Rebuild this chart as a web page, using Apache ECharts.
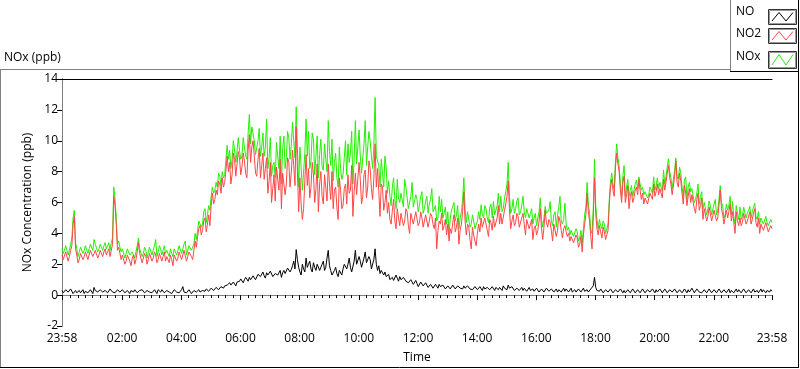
<!DOCTYPE html>
<html><head><meta charset="utf-8">
<script src="https://cdn.jsdelivr.net/npm/echarts@6/dist/echarts.min.js"></script>
<style>html,body{margin:0;padding:0;background:#fff}#c{width:800px;height:369px}</style>
</head><body><div id="c"></div>
<script>
// time in minutes since 23:58 (start of record).
// "main" arrays: samples at 0,5,10,... min; "mid" arrays: samples at 2.5,7.5,... min. One row per hour.
const stepMinutes = 5;
const no2Main = [
 2.6,2.4,2.9,2.5,3.2,5.1,2.6,2.3,2.8,2.5,2.9,2.6,
 3.0,2.7,2.9,2.6,3.0,2.8,2.6,3.0,2.9,6.4,4.6,3.1,
 2.3,2.5,2.2,2.7,1.9,2.6,2.3,3.4,2.6,2.2,2.5,2.3,
 2.8,2.4,2.6,2.3,2.7,2.5,2.2,2.6,2.6,1.9,2.7,2.4,
 2.9,2.6,2.8,2.5,2.7,2.3,3.5,3.8,4.5,4.2,5.0,4.6,
 4.5,6.6,6.2,6.5,7.2,7.6,7.3,9.0,8.6,7.8,8.8,8.5,
 8.9,8.3,8.7,7.6,10.4,9.6,9.0,7.7,9.5,8.4,7.5,8.9,
 7.4,6.0,7.8,8.3,6.8,5.6,8.0,7.2,8.6,7.9,8.4,10.9,
 5.4,5.9,5.6,9.1,8.2,7.0,7.8,6.9,5.4,8.0,5.9,7.0,
 8.5,6.2,5.6,7.0,4.9,6.8,5.8,7.2,7.8,6.8,5.1,7.9,
 6.6,7.5,6.4,8.1,7.0,8.2,6.2,9.8,8.2,5.1,7.0,6.0,
 5.3,4.9,5.5,4.8,5.6,4.5,5.2,4.8,5.4,4.0,5.2,4.6,
 5.5,4.7,5.0,4.5,5.3,4.8,5.1,4.3,3.0,4.8,5.3,4.5,
 3.9,3.5,4.0,5.2,4.4,3.3,4.6,6.7,3.9,4.4,3.0,3.9,
 3.2,4.6,5.0,4.3,4.9,3.8,4.7,5.1,4.3,5.8,5.3,4.6,
 5.9,7.4,4.3,5.2,4.7,5.1,4.5,5.3,3.9,4.8,4.4,3.6,
 4.5,4.2,5.6,3.6,5.5,4.4,4.7,3.5,4.5,4.2,4.8,3.7,
 4.5,3.8,3.5,3.9,3.4,3.7,3.3,2.8,4.6,6.6,4.8,3.0,
 7.6,4.3,4.5,3.7,4.1,3.5,5.9,7.5,6.4,9.2,8.0,6.0,
 7.7,6.5,5.6,6.7,6.3,7.0,7.5,6.2,5.9,6.4,6.0,6.5,
 7.2,6.7,6.5,6.8,7.5,7.3,8.4,7.2,6.4,8.7,7.0,7.4,
 5.9,6.6,6.4,6.0,6.5,5.3,6.6,5.8,4.9,5.5,5.1,5.3,
 4.9,5.4,5.0,6.8,5.2,4.6,5.0,5.9,5.4,4.0,4.8,5.0,
 4.7,5.2,4.8,5.4,4.9,5.6,4.4,4.0,4.6,4.1,4.4,4.0,
 4.3
];
const no2Mid = [
 2.3,2.8,2.2,2.9,4.6,3.0,2.1,2.7,2.3,2.8,2.3,2.9,
 2.5,2.9,2.4,2.9,2.5,3.0,2.8,2.5,3.3,5.8,2.9,2.7,
 2.6,2.0,2.6,2.2,2.4,2.0,2.8,2.7,2.1,2.7,2.0,2.7,
 2.2,2.8,2.1,2.7,2.2,2.8,2.5,2.1,2.3,2.6,2.2,2.8,
 2.3,2.9,2.2,2.8,2.5,2.9,3.1,4.3,3.9,4.8,4.1,5.2,
 5.8,5.9,6.8,7.4,6.6,7.0,8.1,8.0,7.2,9.2,7.7,9.3,
 7.8,9.2,7.9,9.4,8.6,10.0,7.9,8.8,7.6,9.2,8.2,6.6,
 8.6,6.9,6.1,7.5,8.8,7.9,6.5,8.9,7.0,9.4,7.1,8.0,
 7.6,4.9,7.4,7.1,6.3,8.6,6.0,8.5,7.2,6.4,7.8,6.1,
 7.2,8.0,6.8,5.7,7.6,5.6,6.9,5.9,6.6,8.4,6.7,6.5,
 8.6,5.9,7.8,6.3,8.7,6.9,7.6,7.0,6.7,7.2,5.5,6.8,
 6.0,4.6,6.2,4.3,5.0,5.3,4.5,5.6,4.5,5.3,4.6,5.4,
 4.5,5.4,4.4,5.2,4.4,5.3,4.6,5.0,4.2,4.6,4.2,4.9,
 4.6,4.3,4.7,4.1,5.0,4.2,5.4,4.8,4.6,3.6,4.4,3.5,
 4.0,4.1,4.4,5.0,4.2,4.9,4.2,4.4,5.0,4.6,4.6,5.5,
 6.4,5.6,4.8,4.5,5.3,4.4,5.0,4.6,4.9,4.3,4.9,4.3,
 3.9,4.8,4.3,4.4,4.7,4.9,4.2,4.6,3.8,5.1,4.2,4.3,
 4.1,4.0,3.8,3.4,3.9,3.1,3.8,3.9,5.2,5.4,3.8,5.0,
 5.3,3.9,4.1,4.4,3.6,4.2,7.0,6.8,8.3,8.5,6.8,7.3,
 6.0,7.1,6.4,6.0,6.8,6.5,6.8,6.6,6.3,5.9,6.6,6.2,
 6.4,7.2,6.9,6.3,6.8,7.9,7.6,6.5,7.7,7.3,7.9,6.6,
 7.1,5.8,6.9,6.5,5.6,6.2,5.5,6.3,5.6,4.8,5.7,4.8,
 5.5,4.8,5.8,5.6,4.6,5.5,5.4,4.8,4.7,5.4,4.5,4.5,
 5.3,4.6,5.1,4.6,5.3,4.7,5.0,4.6,4.2,4.7,4.1,4.5
];
const noxMain = [
 3.0,2.9,3.3,2.9,3.7,5.5,3.0,2.8,3.1,2.9,3.2,3.0,
 3.3,3.6,3.2,3.0,3.3,3.2,3.0,3.4,3.4,7.0,5.0,3.5,
 2.8,2.9,2.7,3.0,2.5,2.9,2.8,3.7,3.0,2.7,2.9,2.8,
 3.1,2.9,3.6,2.8,3.0,2.9,2.7,3.0,3.0,2.5,3.1,2.9,
 3.2,3.0,3.5,2.9,3.1,2.8,4.0,4.2,4.8,4.6,5.6,5.2,
 5.5,7.0,6.8,7.0,7.7,8.0,7.8,9.7,9.4,8.8,9.4,9.3,
 9.4,9.0,9.6,8.8,11.7,10.9,10.0,9.2,10.8,9.6,9.0,11.4,
 8.9,7.7,8.6,9.9,8.2,7.2,10.3,8.9,10.2,9.7,10.0,12.2,
 7.0,8.3,6.8,11.4,10.6,8.7,10.1,9.0,7.6,10.1,8.1,8.8,
 11.3,8.4,7.4,9.2,7.0,8.2,7.8,10.0,9.8,9.2,7.2,11.3,
 8.5,9.0,8.0,11.3,9.6,10.0,8.2,12.8,9.0,7.0,8.7,9.0,
 6.6,6.4,7.0,6.2,7.5,6.0,6.6,7.5,6.9,5.6,7.3,6.1,
 6.2,5.8,6.7,5.6,6.4,5.9,6.9,5.5,4.8,6.4,6.2,5.3,
 4.6,4.0,5.5,6.0,5.2,4.3,5.4,7.6,4.7,5.3,4.6,4.8,
 4.4,5.4,5.85,5.0,5.6,4.7,5.9,6.06,5.2,6.6,6.4,5.6,
 6.7,8.6,5.3,6.2,5.6,6.3,5.4,6.4,5.0,5.7,5.3,4.6,
 5.3,5.0,6.3,4.4,5.75,5.3,6.06,4.5,5.4,5.2,6.4,4.6,
 5.95,4.2,3.9,4.3,3.8,4.1,3.7,3.4,5.2,7.3,5.3,4.0,
 8.8,4.9,4.9,4.3,4.6,4.1,6.2,7.9,6.8,9.8,8.4,6.4,
 8.4,7.0,6.4,7.1,6.8,7.45,7.66,6.8,6.5,6.7,6.5,6.9,
 7.66,7.1,6.9,7.2,8.1,7.7,8.83,7.6,7.0,8.88,7.5,7.9,
 6.4,7.66,7.0,6.7,6.9,6.2,7.2,6.4,5.6,6.0,5.6,5.8,
 5.3,6.2,5.5,7.1,5.8,5.2,5.5,6.4,6.06,4.6,5.3,5.7,
 5.1,5.74,5.3,5.74,5.4,5.95,4.9,4.6,4.9,4.5,4.7,4.5,
 4.7
];
const noxMid = [
 2.7,3.2,2.6,3.3,5.0,3.4,2.5,3.1,2.7,3.2,2.7,3.3,
 2.9,3.3,2.8,3.3,2.9,3.4,3.2,2.9,3.7,6.3,3.3,3.1,
 3.0,2.4,3.0,2.6,2.8,2.4,3.2,3.0,2.5,3.1,2.4,3.1,
 2.6,3.2,2.5,3.2,2.6,3.2,2.9,2.5,2.7,3.0,2.6,3.2,
 2.7,3.3,2.6,3.2,2.9,3.3,3.6,4.8,4.4,5.4,4.7,5.8,
 6.4,6.6,7.3,7.9,7.1,7.6,8.8,8.8,8.2,10.0,8.6,10.2,
 8.8,10.2,9.0,10.5,9.8,11.0,9.1,10.0,9.0,10.5,9.6,8.2,
 10.2,8.4,7.6,9.0,10.3,9.5,8.2,10.6,8.8,11.2,8.9,9.5,
 9.6,6.8,9.2,9.0,8.2,10.5,7.8,10.3,9.1,8.3,9.8,8.0,
 9.3,10.1,8.6,7.6,9.6,7.5,8.9,7.8,8.6,10.6,8.8,8.5,
 10.7,7.9,9.8,8.4,10.6,9.0,9.7,9.0,8.4,8.8,7.0,8.3,
 7.4,5.8,7.6,5.6,6.3,6.6,5.7,7.0,5.6,6.4,5.7,6.5,
 5.4,6.4,5.3,6.1,5.3,6.2,5.4,5.8,5.0,5.4,5.0,5.7,
 5.4,5.0,5.5,4.8,5.8,5.0,6.1,5.6,5.4,4.4,5.2,4.3,
 4.8,4.9,5.2,5.8,5.0,5.7,5.0,5.2,5.8,5.4,5.4,6.3,
 7.2,6.4,5.6,5.3,6.1,5.2,5.8,5.4,5.6,5.0,5.6,5.0,
 4.5,5.4,4.9,5.0,5.3,5.5,4.8,5.2,4.4,5.7,4.8,4.9,
 4.6,4.4,4.2,3.8,4.3,3.5,4.2,4.3,5.7,5.9,4.2,5.6,
 5.8,4.3,4.5,4.8,4.0,4.6,7.4,7.2,8.7,8.9,7.2,7.7,
 6.4,7.5,6.8,6.4,7.2,6.9,7.2,7.0,6.7,6.3,7.0,6.6,
 6.8,7.6,7.3,6.7,7.2,8.3,8.0,6.9,8.1,7.7,8.3,7.0,
 7.5,6.2,7.3,6.9,6.0,6.6,5.9,6.7,6.0,5.2,6.1,5.2,
 5.9,5.2,6.2,6.0,5.0,5.9,5.8,5.2,5.1,5.8,4.9,4.9,
 5.7,5.0,5.5,5.0,5.7,5.1,5.4,5.0,4.6,5.1,4.5,4.9
];
const noMain = [
 0.3,0.2,0.35,0.25,0.3,0.2,0.15,0.3,0.25,0.1,0.3,0.2,
 0.25,0.5,0.3,0.2,0.35,0.15,0.3,0.25,0.4,0.3,0.15,0.3,
 0.2,0.3,0.15,0.25,0.3,0.2,0.35,0.25,0.2,0.3,0.15,0.25,
 0.3,0.2,0.25,0.35,0.2,0.3,0.15,0.3,0.25,0.2,0.35,0.3,
 0.2,0.55,0.3,0.2,0.25,0.15,0.3,0.25,0.2,0.3,0.25,0.35,
 0.3,0.35,0.4,0.45,0.4,0.55,0.6,0.65,0.8,0.7,0.75,0.85,
 0.9,0.95,1.0,1.1,1.15,0.95,1.2,1.1,1.45,1.3,1.25,1.45,
 1.3,1.45,1.2,1.5,1.35,1.15,1.6,1.5,1.85,1.65,2.2,2.95,
 1.8,1.3,1.7,2.4,2.0,1.7,2.1,1.6,1.9,1.7,2.2,1.8,
 2.9,1.6,1.3,1.8,1.2,1.5,1.7,2.1,2.0,1.8,1.6,2.9,
 1.9,2.2,1.7,2.8,2.0,2.3,1.8,3.0,1.6,1.4,1.7,1.5,
 1.2,1.0,1.15,0.95,1.1,1.2,0.9,1.05,1.0,0.85,0.95,0.8,
 0.75,0.65,0.8,0.6,0.7,0.55,0.65,0.5,0.6,0.7,0.45,0.55,
 0.45,0.6,0.5,0.55,0.4,0.65,0.5,0.6,0.45,0.55,0.5,0.4,
 0.5,0.4,0.45,0.55,0.35,0.5,0.4,0.45,0.5,0.35,0.45,0.6,
 0.5,0.65,0.4,0.45,0.35,0.5,0.4,0.3,0.45,0.35,0.3,0.4,
 0.3,0.4,0.25,0.35,0.3,0.45,0.25,0.35,0.3,0.2,0.35,0.3,
 0.25,0.4,0.3,0.2,0.35,0.25,0.5,0.3,0.25,0.35,0.3,0.45,
 1.15,0.3,0.25,0.35,0.2,0.3,0.25,0.3,0.2,0.35,0.25,0.3,
 0.3,0.2,0.35,0.25,0.3,0.2,0.35,0.25,0.3,0.2,0.3,0.25,
 0.3,0.35,0.2,0.3,0.25,0.3,0.2,0.35,0.25,0.3,0.2,0.3,
 0.25,0.3,0.35,0.2,0.3,0.25,0.35,0.3,0.2,0.3,0.25,0.3,
 0.2,0.3,0.25,0.35,0.2,0.3,0.25,0.15,0.3,0.25,0.2,0.3,
 0.25,0.3,0.2,0.35,0.25,0.2,0.3,0.25,0.2,0.35,0.3,0.2,
 0.25
];
const noMid = [
 0.15,0.35,0.2,0.4,0.1,0.3,0.25,0.15,0.35,0.25,0.15,0.35,
 0.1,0.3,0.2,0.35,0.2,0.3,0.15,0.4,0.2,0.15,0.35,0.2,
 0.35,0.15,0.3,0.1,0.25,0.35,0.15,0.3,0.35,0.15,0.3,0.2,
 0.15,0.35,0.1,0.25,0.35,0.15,0.3,0.2,0.1,0.35,0.2,0.15,
 0.35,0.2,0.15,0.35,0.1,0.3,0.2,0.35,0.3,0.2,0.4,0.25,
 0.45,0.3,0.5,0.35,0.55,0.45,0.7,0.55,0.65,0.85,0.6,0.75,
 1.05,0.8,1.15,0.9,1.0,1.25,1.0,1.35,1.2,1.5,1.1,1.3,
 1.55,1.2,1.4,1.3,1.6,1.45,1.4,1.75,1.5,1.9,1.7,2.3,
 1.5,2.0,1.5,1.8,2.2,1.5,1.8,2.0,1.6,2.0,1.6,2.4,
 1.9,1.3,1.6,1.4,1.6,1.3,2.0,1.7,2.4,1.5,2.2,2.0,
 2.5,1.8,2.4,2.1,2.5,1.7,2.3,2.0,1.9,1.6,1.3,1.2,
 1.35,1.1,0.95,1.3,0.9,1.0,1.15,0.9,0.8,1.0,0.7,0.95,
 0.55,0.85,0.6,0.8,0.5,0.7,0.45,0.7,0.45,0.55,0.65,0.4,
 0.6,0.4,0.65,0.4,0.6,0.45,0.4,0.45,0.6,0.4,0.35,0.55,
 0.35,0.55,0.3,0.4,0.5,0.35,0.55,0.3,0.4,0.5,0.3,0.45,
 0.35,0.45,0.55,0.3,0.45,0.3,0.5,0.45,0.25,0.5,0.4,0.25,
 0.45,0.2,0.4,0.2,0.45,0.25,0.4,0.2,0.4,0.35,0.2,0.45,
 0.4,0.2,0.45,0.3,0.2,0.4,0.2,0.45,0.35,0.2,0.4,0.6,
 0.5,0.2,0.4,0.15,0.35,0.2,0.4,0.15,0.35,0.2,0.4,0.15,
 0.15,0.35,0.15,0.4,0.15,0.35,0.15,0.4,0.15,0.35,0.2,0.4,
 0.15,0.2,0.4,0.15,0.4,0.15,0.35,0.2,0.4,0.15,0.35,0.15,
 0.4,0.15,0.2,0.45,0.15,0.4,0.2,0.15,0.35,0.15,0.4,0.15,
 0.35,0.15,0.4,0.15,0.35,0.15,0.4,0.3,0.15,0.4,0.35,0.15,
 0.4,0.15,0.35,0.15,0.4,0.3,0.15,0.4,0.35,0.15,0.2,0.35
];
// axis ticks (minutes since 23:58) and their labels
const timeTickMinutes = [0,122,242,362,482,602,722,842,962,1082,1202,1322,1440];
const timeTickLabels = ['23:58','02:00','04:00','06:00','08:00','10:00','12:00','14:00','16:00','18:00','20:00','22:00','23:58'];
const seriesNames = ['NO','NO2','NOx'];
const seriesColors = ['#000000','#ff4646','#22f000'];

const minorTicks = [];
for (let m = 17; m < 1440; m += 15) if (timeTickMinutes.indexOf(m) < 0) minorTicks.push(m);
function toPairs(main, mid) {
  const out = [];
  main.forEach((v, i) => {
    out.push([i * stepMinutes, v]);
    if (i < mid.length) out.push([i * stepMinutes + stepMinutes / 2, mid[i]]);
  });
  return out;
}
const labelMap = {};
timeTickMinutes.forEach((m, i) => labelMap[m] = timeTickLabels[i]);

const FONT = 'Open Sans';
const chart = echarts.init(document.getElementById('c'), null, {renderer: 'canvas'});

function swatch(i, y, h) {
  return {
    type: 'group', left: 767, top: y, children: [
      {type: 'rect', shape: {x: 0.5, y: 0.5, width: 28, height: h}, style: {fill: '#fff', stroke: '#333', lineWidth: 1}},
      {type: 'rect', shape: {x: 1.5, y: 1.5, width: 26, height: h - 2}, style: {fill: 'none', stroke: '#999', lineWidth: 1}},
      {type: 'polyline', shape: {points: [[4, h - 3], [11, 3.5], [18, h - 3], [25, 3.5]]}, style: {stroke: seriesColors[i], lineWidth: 1, fill: 'none'}}
    ]
  };
}

chart.setOption({
  animation: false,
  backgroundColor: '#fff',
  textStyle: {fontFamily: FONT},
  title: {text: 'NOx (ppb)', left: 4, top: 52, padding: 0, textStyle: {fontSize: 12, fontWeight: 'normal', color: '#000', fontFamily: FONT}},
  grid: {left: 62, top: 79, right: 28, bottom: 40, containLabel: false},
  xAxis: [
    {type: 'value', min: 0, max: 1440, position: 'bottom',
     name: 'Time', nameLocation: 'middle', nameGap: 26, nameTextStyle: {fontSize: 12, color: '#000', fontFamily: FONT},
     axisLine: {show: true, lineStyle: {color: '#808080', width: 1}},
     axisTick: {show: true, customValues: timeTickMinutes, length: 5, inside: false, lineStyle: {color: '#000'}},
     axisLabel: {show: true, customValues: timeTickMinutes, formatter: v => labelMap[Math.round(v)] || '', fontSize: 12, color: '#000', margin: 7, fontFamily: FONT, hideOverlap: false},
     splitLine: {show: false}},
    {type: 'value', min: 0, max: 1440, position: 'bottom', gridIndex: 0,
     axisLine: {show: false},
     axisTick: {show: true, customValues: minorTicks, length: 3, lineStyle: {color: '#000'}},
     axisLabel: {show: false}, splitLine: {show: false}},
    {type: 'value', min: 0, max: 1440, position: 'top', gridIndex: 0,
     axisLine: {show: true, lineStyle: {color: '#000', width: 1}},
     axisTick: {show: false}, axisLabel: {show: false}, splitLine: {show: false}}
  ],
  yAxis: [
    {type: 'value', min: -2, max: 14, interval: 2, position: 'left',
     name: 'NOx Concentration (ppb)', nameLocation: 'middle', nameGap: 22, nameTextStyle: {fontSize: 12, color: '#000', fontFamily: FONT},
     axisLine: {show: true, lineStyle: {color: '#000', width: 1}},
     axisTick: {show: true, length: 5, lineStyle: {color: '#000'}},
     axisLabel: {fontSize: 12, color: '#000', margin: 4, fontFamily: FONT},
     splitLine: {show: false}},
    {type: 'value', min: -2, max: 14, interval: 2, position: 'right',
     axisLine: {show: true, lineStyle: {color: '#808080', width: 1}},
     axisTick: {show: false}, axisLabel: {show: false}, splitLine: {show: false}}
  ],
  series: [
    {name: 'NOx', type: 'line', data: toPairs(noxMain, noxMid), showSymbol: false, symbol: 'none', lineStyle: {color: seriesColors[2], width: 1}, itemStyle: {color: seriesColors[2]}, z: 2},
    {name: 'NO2', type: 'line', data: toPairs(no2Main, no2Mid), showSymbol: false, symbol: 'none', lineStyle: {color: seriesColors[1], width: 1}, itemStyle: {color: seriesColors[1]}, z: 3},
    {name: 'NO', type: 'line', data: toPairs(noMain, noMid), showSymbol: false, symbol: 'none', lineStyle: {color: seriesColors[0], width: 1}, itemStyle: {color: seriesColors[0]}, z: 4}
  ],
  graphic: [
    {type: 'line', shape: {x1: 0, y1: 69.5, x2: 730, y2: 69.5}, style: {stroke: '#808080', lineWidth: 1}},
    {type: 'line', shape: {x1: 0.5, y1: 69, x2: 0.5, y2: 368}, style: {stroke: '#808080', lineWidth: 1}},
    {type: 'line', shape: {x1: 0, y1: 367.5, x2: 799, y2: 367.5}, style: {stroke: '#000', lineWidth: 1}},
    {type: 'line', shape: {x1: 798.5, y1: 0, x2: 798.5, y2: 368}, style: {stroke: '#000', lineWidth: 1}},
    {type: 'line', shape: {x1: 730.5, y1: 0, x2: 730.5, y2: 72}, style: {stroke: '#808080', lineWidth: 1}},
    {type: 'line', shape: {x1: 730, y1: 71.5, x2: 799, y2: 71.5}, style: {stroke: '#000', lineWidth: 1}},
    {type: 'text', left: 736, top: 6, style: {text: seriesNames[0], fontSize: 12, fontFamily: FONT, fill: '#000'}},
    {type: 'text', left: 736, top: 28, style: {text: seriesNames[1], fontSize: 12, fontFamily: FONT, fill: '#000'}},
    {type: 'text', left: 736, top: 51, style: {text: seriesNames[2], fontSize: 12, fontFamily: FONT, fill: '#000'}},
    swatch(0, 8, 15), swatch(1, 27, 15), swatch(2, 50, 17)
  ]
});
</script></body></html>
